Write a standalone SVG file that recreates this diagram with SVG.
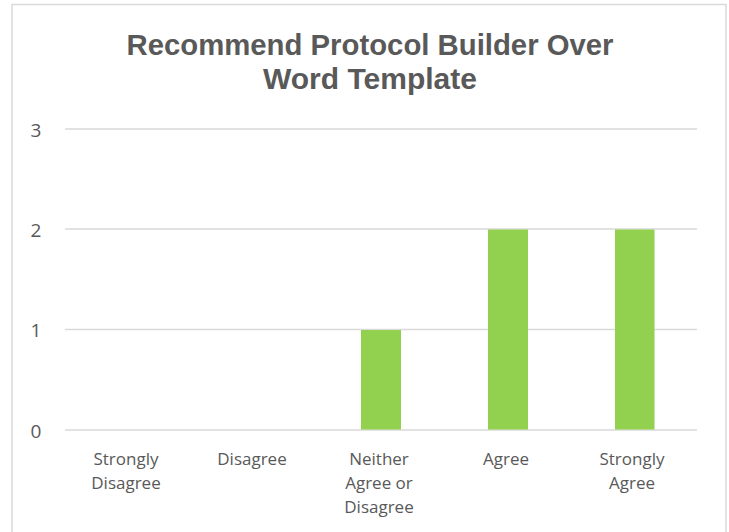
<svg xmlns="http://www.w3.org/2000/svg" width="729" height="532" viewBox="0 0 729 532">
<style>
.title{font-family:"Liberation Sans",Arial,sans-serif;font-weight:bold;font-size:29px;fill:#595959;text-anchor:middle}
.ax{font-family:"Open Sans","Noto Sans",sans-serif;font-size:17px;fill:#595959;text-anchor:middle}
.ynum{font-family:"Open Sans","Noto Sans",sans-serif;font-size:19px;fill:#595959;text-anchor:middle}
.grid{stroke:#d9d9d9;stroke-width:1.5;fill:none}
.bar{fill:#92d050}
</style>
<rect x="0" y="0" width="729" height="532" fill="#ffffff"/>
<rect x="12" y="4.5" width="714" height="540" fill="#ffffff" stroke="#d9d9d9" stroke-width="1.5"/>
<g id="title">
<text class="title" x="370" y="55" textLength="487" lengthAdjust="spacingAndGlyphs">Recommend Protocol Builder Over</text>
<text class="title" x="370" y="89" textLength="214" lengthAdjust="spacingAndGlyphs">Word Template</text>
</g>
<g id="gridlines">
<line class="grid" x1="65" y1="129" x2="697" y2="129"/>
<line class="grid" x1="65" y1="229" x2="697" y2="229"/>
<line class="grid" x1="65" y1="329.5" x2="697" y2="329.5"/>
<line class="grid" x1="65" y1="430" x2="697" y2="430"/>
</g>
<g id="y-axis">
<text class="ynum" x="36" y="137">3</text>
<text class="ynum" x="36" y="237">2</text>
<text class="ynum" x="36" y="337">1</text>
<text class="ynum" x="36" y="438">0</text>
</g>
<g id="bars">
<rect id="bar-neither" class="bar" x="361" y="330" width="40" height="99.5"/>
<rect id="bar-agree" class="bar" x="488" y="229.5" width="40" height="200"/>
<rect id="bar-strongly-agree" class="bar" x="615" y="229.5" width="39.5" height="200"/>
</g>
<g id="x-axis">
<text class="ax" x="126" y="465">Strongly</text>
<text class="ax" x="126" y="489">Disagree</text>
<text class="ax" x="252" y="465">Disagree</text>
<text class="ax" x="379" y="465">Neither</text>
<text class="ax" x="379" y="489">Agree or</text>
<text class="ax" x="379" y="513">Disagree</text>
<text class="ax" x="506" y="465">Agree</text>
<text class="ax" x="632" y="465">Strongly</text>
<text class="ax" x="632" y="489">Agree</text>
</g>
</svg>
